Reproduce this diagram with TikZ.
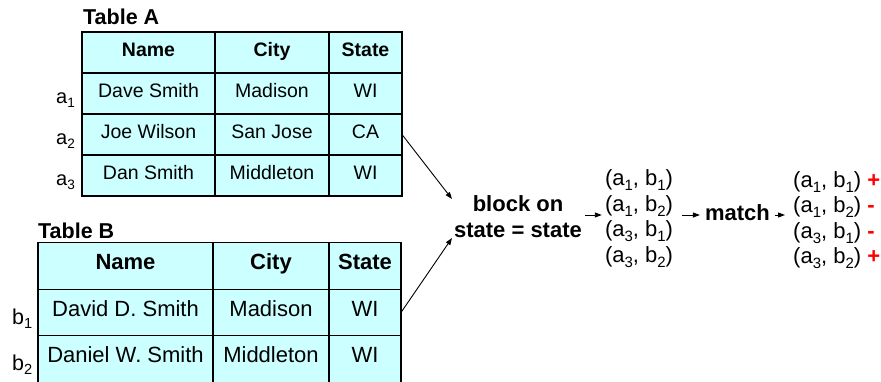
\documentclass[tikz,border=0pt]{standalone}
\usepackage{fontspec}
\usepackage{graphicx}
\setmainfont{Liberation Sans}
\usetikzlibrary{arrows.meta}
\definecolor{cellfill}{RGB}{204,255,255}
\newcommand\lo[1]{\raisebox{-0.22em}{\scalebox{0.68}{#1}}}
\begin{document}
\begin{tikzpicture}[x=1pt,y=-1pt,
  cell/.style={draw=black, fill=cellfill, line width=1.2pt, inner sep=0pt, outer sep=0pt,
    text height=0.9em, text depth=0.15em, anchor=center},
  cA/.style={cell, font=\fontsize{19.5}{22}\selectfont, minimum height=41pt},
  cB/.style={cell, font=\fontsize{22}{25}\selectfont, minimum height=46.5pt},
  ttl/.style={anchor=base west, inner sep=0pt, font=\fontsize{21.5}{24}\selectfont\bfseries},
  lblA/.style={anchor=base west, inner sep=0pt, font=\fontsize{20}{22}\selectfont},
  lblB/.style={anchor=base west, inner sep=0pt, font=\fontsize{21.5}{24}\selectfont},
  lst/.style={inner sep=3pt, font=\fontsize{22}{25.5}\selectfont},
  bld/.style={inner sep=3pt, font=\fontsize{22}{26}\selectfont\bfseries},
  arr/.style={-{Triangle[length=7pt,width=5pt]}, line width=0.9pt}
]
\useasboundingbox (0,0) rectangle (881,381);

% Table A
\node[ttl] (tA) at (83,24) {Table A};
\node[cA, minimum width=133pt] (A01) at (148.5,52.5) {\bfseries Name};
\node[cA, minimum width=114pt] (A02) at (272,52.5) {\bfseries City};
\node[cA, minimum width=73pt]  (A03) at (365.5,52.5) {\bfseries State};
\node[cA, minimum width=133pt] (A11) at (148.5,93.5) {Dave Smith};
\node[cA, minimum width=114pt] (A12) at (272,93.5) {Madison};
\node[cA, minimum width=73pt]  (A13) at (365.5,93.5) {WI};
\node[cA, minimum width=133pt] (A21) at (148.5,134.5) {Joe Wilson};
\node[cA, minimum width=114pt] (A22) at (272,134.5) {San Jose};
\node[cA, minimum width=73pt]  (A23) at (365.5,134.5) {CA};
\node[cA, minimum width=133pt] (A31) at (148.5,175.5) {Dan Smith};
\node[cA, minimum width=114pt] (A32) at (272,175.5) {Middleton};
\node[cA, minimum width=73pt]  (A33) at (365.5,175.5) {WI};
\node[lblA] (la1) at (56,103) {a\lo{1}};
\node[lblA] (la2) at (56,144) {a\lo{2}};
\node[lblA] (la3) at (56,185) {a\lo{3}};

% Table B
\node[ttl] (tB) at (38,238) {Table B};
\node[cB, minimum width=175pt] (B01) at (125.5,266) {\bfseries Name};
\node[cB, minimum width=116pt] (B02) at (271,266) {\bfseries City};
\node[cB, minimum width=72pt]  (B03) at (365,266) {\bfseries State};
\node[cB, minimum width=175pt] (B11) at (125.5,312.5) {David D. Smith};
\node[cB, minimum width=116pt] (B12) at (271,312.5) {Madison};
\node[cB, minimum width=72pt]  (B13) at (365,312.5) {WI};
\node[cB, minimum width=175pt] (B21) at (125.5,359) {Daniel W. Smith};
\node[cB, minimum width=116pt] (B22) at (271,359) {Middleton};
\node[cB, minimum width=72pt]  (B23) at (365,359) {WI};
\node[lblB] (lb1) at (12,324) {b\lo{1}};
\node[lblB] (lb2) at (12,370) {b\lo{2}};

% Blocking and matching
\node[bld, align=center] (block) at (518,216.5) {block on\\state = state};
\node[lst, align=center] (pairs) at (639,218.5) {(a\lo{1}, b\lo{1})\\(a\lo{1}, b\lo{2})\\(a\lo{3}, b\lo{1})\\(a\lo{3}, b\lo{2})};
\node[bld, anchor=base] (match) at (737.5,220.5) {match};
\node[lst, align=left, anchor=west] (res) at (790,220) {(a\lo{1}, b\lo{1}) {\color{red}\bfseries +}\\(a\lo{1}, b\lo{2}) {\color{red}\bfseries -}\\(a\lo{3}, b\lo{1}) {\color{red}\bfseries -}\\(a\lo{3}, b\lo{2}) {\color{red}\bfseries +}};

\coordinate (inA) at (452,199);
\coordinate (inB) at (452,238);
\coordinate (mid) at (0,215);
\draw[arr] (A23.east) -- (inA);
\draw[arr] (B13.east) -- (inB);
\draw[arr] (block.east |- mid) -- (pairs.west |- mid);
\draw[arr, shorten <=6pt, shorten >=2pt] (pairs.east |- mid) -- (match.west |- mid);
\draw[arr, shorten <=2pt, shorten >=5pt] (match.east |- mid) -- (res.west |- mid);
\end{tikzpicture}
\end{document}
